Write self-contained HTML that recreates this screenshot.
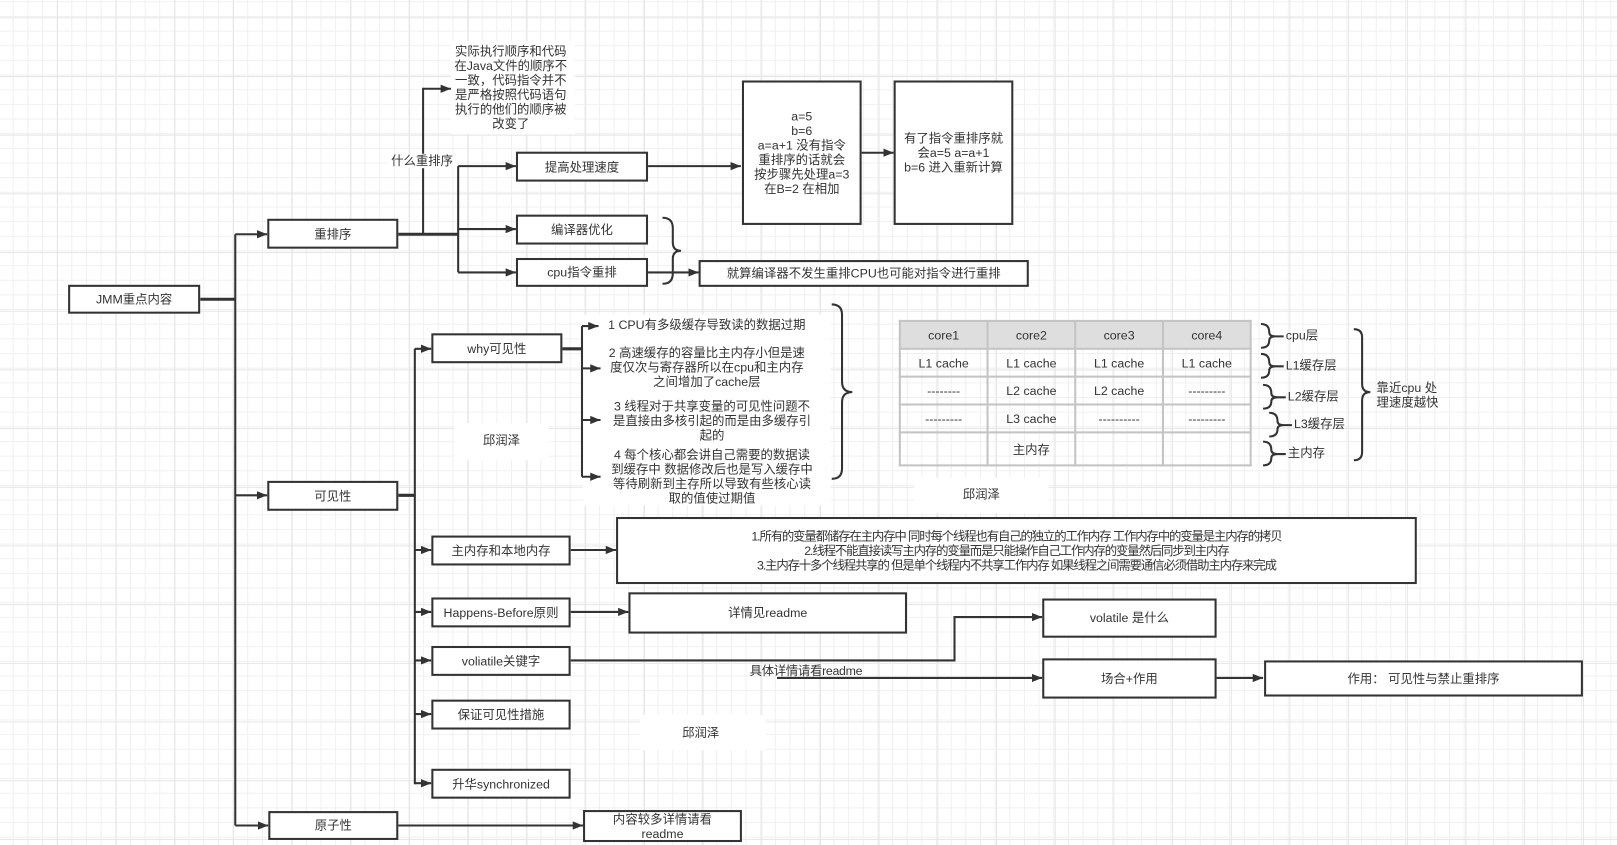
<!DOCTYPE html>
<html><head><meta charset="utf-8"><style>
html,body{margin:0;padding:0;}
body{width:1617px;height:845px;overflow:hidden;background-color:#fff;
background-image:
linear-gradient(to right,#e6e6e6 1px,transparent 1px),
linear-gradient(to bottom,#e6e6e6 1px,transparent 1px),
linear-gradient(to right,#f0f0f0 1px,transparent 1px),
linear-gradient(to bottom,#f0f0f0 1px,transparent 1px);
background-size:58.7px 58.7px,58.7px 58.7px,14.67px 14.67px,14.67px 14.67px;
background-position:-1.7px 0,0 17.3px,12.7px 0,0 1.3px;
font-family:"Liberation Sans","Noto Sans CJK SC",sans-serif;color:#333;}
#c{position:absolute;left:0;top:0;width:1567px;height:819px;transform:scale(1.0319);transform-origin:0 0;}
.b{position:absolute;box-sizing:border-box;border:2px solid #333;background:#fff;display:flex;align-items:center;justify-content:center;text-align:center;font-size:12px;line-height:14px;}
.t{position:absolute;font-size:12px;line-height:14px;text-align:center;}
.w{position:absolute;background:#fff;}
svg{position:absolute;left:0;top:0;}
table{position:absolute;left:871px;top:310px;width:342px;height:142px;border-collapse:collapse;font-size:12px;}
td{border:2px solid #c4c4c4;text-align:center;color:#333;width:25%;}
</style></head><body><div id="c">
<div class="w" style="left:437px;top:40px;width:120px;height:90px"></div>
<div class="w" style="left:440px;top:410px;width:92px;height:36px"></div>
<div class="w" style="left:886px;top:463px;width:130px;height:34px"></div>
<div class="w" style="left:620px;top:693px;width:122px;height:34px"></div>
<div class="w" style="left:565px;top:305px;width:240px;height:185px"></div>
<svg width="1567" height="819" viewBox="0 0 1567 819">
<defs><marker id="a" markerWidth="10" markerHeight="8" refX="10" refY="4" orient="auto" markerUnits="userSpaceOnUse"><path d="M0,0 L10,4 L0,8 z" fill="#333"/></marker></defs>
<g stroke="#333" stroke-width="2" fill="none">
<path d="M194,290 H228" stroke-width="3"/>
<path d="M228,227 V800"/>
<path d="M228,227 H259" marker-end="url(#a)"/>
<path d="M228,480 H259" marker-end="url(#a)"/>
<path d="M228,800 H260" marker-end="url(#a)"/>
<path d="M386,227 H444" stroke-width="3"/>
<path d="M410,227 V86 H437" marker-end="url(#a)"/>
<path d="M444,161 V264"/>
<path d="M444,161 H500" marker-end="url(#a)"/>
<path d="M444,222 H500" marker-end="url(#a)"/>
<path d="M444,264 H500" marker-end="url(#a)"/>
<path d="M628,161 H718" marker-end="url(#a)"/>
<path d="M834,148 H866" marker-end="url(#a)"/>
<path d="M628,264 H677" marker-end="url(#a)"/>
<path d="M642,211 q10,0 10,10 v14 q0,8 8,8 q-8,0 -8,8 v14 q0,10 -10,10"/>
<path d="M386,480 H402" stroke-width="3"/>
<path d="M402,338 V760"/>
<path d="M402,338 H418" marker-end="url(#a)"/>
<path d="M402,533 H418" marker-end="url(#a)"/>
<path d="M402,593 H418" marker-end="url(#a)"/>
<path d="M402,640 H418" marker-end="url(#a)"/>
<path d="M402,692 H418" marker-end="url(#a)"/>
<path d="M402,759 H418" marker-end="url(#a)"/>
<path d="M545,338 H564" stroke-width="3"/>
<path d="M564,316 V462"/>
<path d="M564,316 H580" marker-end="url(#a)"/>
<path d="M564,357 H582" marker-end="url(#a)"/>
<path d="M564,407 H582" marker-end="url(#a)"/>
<path d="M564,462 H582" marker-end="url(#a)"/>
<path d="M806,295 q10,0 10,10 v65 q0,10 10,10 q-10,0 -10,10 v64 q0,10 -10,10"/>
<path d="M1222,314 q8,0 8,8 q0,4 6,4 h8 M1236,326 q-6,0 -6,4 q0,7 -8,7"/>
<path d="M1222,343 q8,0 8,8 q0,4 6,4 h8 M1236,355 q-6,0 -6,4 q0,7 -8,7"/>
<path d="M1224,373 q8,0 8,8 q0,4 6,4 h8 M1238,385 q-6,0 -6,4 q0,7 -8,7"/>
<path d="M1230,400 q8,0 8,8 q0,4 6,4 h8 M1244,412 q-6,0 -6,4 q0,7 -8,7"/>
<path d="M1224,428 q8,0 8,8 q0,4 6,4 h8 M1238,440 q-6,0 -6,4 q0,7 -8,7"/>
<path d="M1312,319 q8,0 8,8 v45 q0,8 8,8 q-8,0 -8,8 v50 q0,8 -8,8"/>
<path d="M553,533 H597" marker-end="url(#a)"/>
<path d="M553,593 H609" marker-end="url(#a)"/>
<path d="M553,640 H925 V598 H1010" marker-end="url(#a)"/>
<path d="M753,657 H1010" marker-end="url(#a)"/>
<path d="M1178,657 H1224" marker-end="url(#a)"/>
<path d="M386,800 H565" marker-end="url(#a)"/>
</g></svg>
<div class="b" style="left:66px;top:276px;width:128px;height:28px">JMM重点内容</div>
<div class="b" style="left:259px;top:212px;width:127px;height:29px">重排序</div>
<div class="t" style="left:437px;top:43px;width:116px">实际执行顺序和代码在Java文件的顺序不一致，代码指令并不是严格按照代码语句执行的他们的顺序被改变了</div>
<div class="t" style="left:376px;top:149px;width:66px;background:#fff">什么重排序</div>
<div class="b" style="left:500px;top:147px;width:128px;height:29px">提高处理速度</div>
<div class="b" style="left:500px;top:208px;width:128px;height:29px">编译器优化</div>
<div class="b" style="left:500px;top:250px;width:128px;height:28px">cpu指令重排</div>
<div class="b" style="left:719px;top:78px;width:116px;height:140px;padding:0 9px">a=5<br>b=6<br>a=a+1 没有指令重排序的话就会按步骤先处理a=3<br>在B=2 在相加</div>
<div class="b" style="left:866px;top:78px;width:116px;height:140px;padding:0 8px">有了指令重排序就会a=5 a=a+1<br>b=6 进入重新计算</div>
<div class="b" style="left:677px;top:252px;width:320px;height:26px">就算编译器不发生重排CPU也可能对指令进行重排</div>
<div class="b" style="left:259px;top:466px;width:127px;height:29px">可见性</div>
<div class="b" style="left:418px;top:323px;width:127px;height:29px">why可见性</div>
<div class="t" style="left:580px;top:308px;width:210px">1 CPU有多级缓存导致读的数据过期</div>
<div class="t" style="left:588px;top:335px;width:194px">2 高速缓存的容量比主内存小但是速度仅次与寄存器所以在cpu和主内存之间增加了cache层</div>
<div class="t" style="left:590px;top:387px;width:200px">3 线程对于共享变量的可见性问题不是直接由多核引起的而是由多缓存引起的</div>
<div class="t" style="left:590px;top:434px;width:200px">4 每个核心都会讲自己需要的数据读到缓存中 数据修改后也是写入缓存中等待刷新到主存所以导致有些核心读取的值使过期值</div>
<div class="t" style="left:440px;top:420px;width:92px">邱润泽</div>
<table>
<tr style="background:#dedede"><td>core1</td><td>core2</td><td>core3</td><td>core4</td></tr>
<tr><td>L1 cache</td><td>L1 cache</td><td>L1 cache</td><td>L1 cache</td></tr>
<tr><td>--------</td><td>L2 cache</td><td>L2 cache</td><td>---------</td></tr>
<tr><td>---------</td><td>L3 cache</td><td>----------</td><td>---------</td></tr>
<tr><td></td><td>主内存</td><td></td><td></td></tr>
</table>
<div class="t" style="left:1246px;top:318px;text-align:left">cpu层</div>
<div class="t" style="left:1246px;top:347px;text-align:left">L1缓存层</div>
<div class="t" style="left:1248px;top:377px;text-align:left">L2缓存层</div>
<div class="t" style="left:1254px;top:404px;text-align:left">L3缓存层</div>
<div class="t" style="left:1248px;top:432px;text-align:left">主内存</div>
<div class="t" style="left:1334px;top:369px;text-align:left">靠近cpu 处<br>理速度越快</div>
<div class="t" style="left:906px;top:472px;width:90px">邱润泽</div>
<div class="b" style="left:418px;top:519px;width:135px;height:29px">主内存和本地内存</div>
<div class="b" style="left:597px;top:501px;width:776px;height:65px;letter-spacing:-1.1px">1.所有的变量都储存在主内存中 同时每个线程也有自己的独立的工作内存 工作内存中的变量是主内存的拷贝<br>2.线程不能直接读写主内存的变量而是只能操作自己工作内存的变量然后同步到主内存<br>3.主内存十多个线程共享的 但是单个线程内不共享工作内存 如果线程之间需要通信必须借助主内存来完成</div>
<div class="b" style="left:418px;top:579px;width:135px;height:29px">Happens-Before原则</div>
<div class="b" style="left:609px;top:574px;width:270px;height:40px">详情见readme</div>
<div class="b" style="left:418px;top:626px;width:135px;height:29px">voliatile关键字</div>
<div class="t" style="left:722px;top:643px;width:118px;letter-spacing:-0.3px">具体详情请看readme</div>
<div class="b" style="left:1010px;top:580px;width:169px;height:38px">volatile 是什么</div>
<div class="b" style="left:1010px;top:638px;width:169px;height:39px">场合+作用</div>
<div class="b" style="left:1225px;top:640px;width:309px;height:35px">作用： 可见性与禁止重排序</div>
<div class="b" style="left:418px;top:678px;width:135px;height:29px">保证可见性措施</div>
<div class="t" style="left:634px;top:703px;width:90px">邱润泽</div>
<div class="b" style="left:418px;top:745px;width:135px;height:29px">升华synchronized</div>
<div class="b" style="left:260px;top:786px;width:126px;height:28px">原子性</div>
<div class="b" style="left:565px;top:785px;width:154px;height:31px">内容较多详情请看<br>readme</div>
</div></body></html>
